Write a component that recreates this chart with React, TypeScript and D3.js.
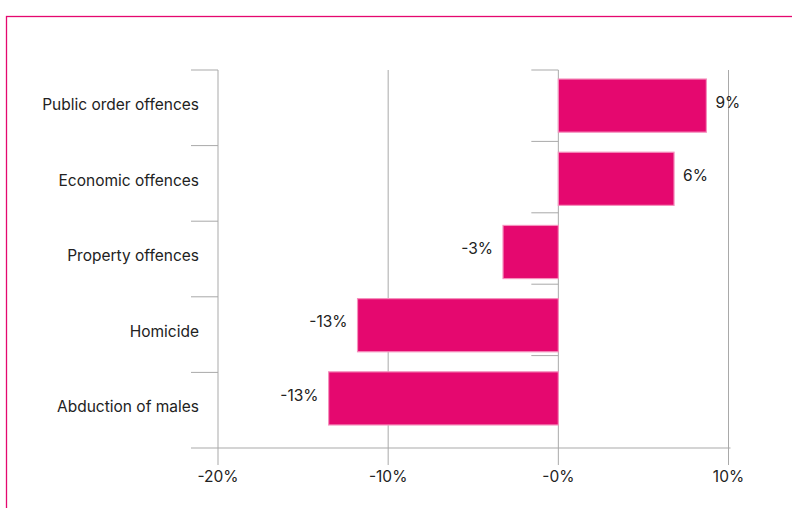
import React from "react";
import * as d3 from "d3";

const categories = [
  "Public order offences",
  "Economic offences",
  "Property offences",
  "Homicide",
  "Abduction of males",
];
const values = [8.7, 6.8, -3.25, -11.8, -13.5];
const valueLabels = ["9%", "6%", "-3%", "-13%", "-13%"];
const xTicks = [-20, -10, 0, 10];
const xTickLabels = ["-20%", "-10%", "-0%", "10%"];

const W = 792;
const H = 508;
const PINK = "#e5086f";
const GRID = "#a9a9a9";
const FONT = "Inter, 'Noto Sans', sans-serif";
const FS = 15.5;

export default function App() {
  const x = d3.scaleLinear().domain([-20, 10]).range([218, 728.5]);
  const yLabel = d3.scaleBand<string>().domain(categories).range([70, 448]);
  const yZeroTicks = d3.scaleBand<string>().domain(categories).range([70, 427]);
  const yBar = d3
    .scaleBand<string>()
    .domain(categories)
    .range([69, 435])
    .paddingInner(0.274)
    .paddingOuter(0.137);

  const top = 70;
  const bottom = 448;
  const leftTickStart = 191;

  return (
    <svg
      width={W}
      height={H}
      style={{ position: "absolute", left: 0, top: 0, display: "block", background: "#fff" }}
    >
      <rect x={6.5} y={16.5} width={900} height={700} fill="none" stroke={PINK} strokeWidth={1.3} />

      {xTicks.map((t) => (
        <line key={t} x1={x(t)} x2={x(t)} y1={top} y2={bottom + 17} stroke={GRID} strokeWidth={1} />
      ))}
      <line x1={leftTickStart} x2={x(10) + 2} y1={bottom} y2={bottom} stroke={GRID} strokeWidth={1} />

      {categories.map((c) => (
        <line
          key={"lt" + c}
          x1={leftTickStart}
          x2={x(-20)}
          y1={yLabel(c)!}
          y2={yLabel(c)!}
          stroke={GRID}
          strokeWidth={1}
        />
      ))}
      {categories.map((c) => (
        <line
          key={"zt" + c}
          x1={x(0) - 27}
          x2={x(0)}
          y1={yZeroTicks(c)!}
          y2={yZeroTicks(c)!}
          stroke={GRID}
          strokeWidth={1}
        />
      ))}

      {categories.map((c, i) => {
        const v = values[i];
        const x0 = x(Math.min(0, v));
        const x1 = x(Math.max(0, v));
        return (
          <rect
            key={"b" + c}
            x={x0}
            y={yBar(c)!}
            width={x1 - x0}
            height={yBar.bandwidth()}
            fill={PINK}
            stroke="#f590bd"
            strokeWidth={1.2}
          />
        );
      })}

      {categories.map((c, i) => {
        const v = values[i];
        const pos = v >= 0;
        return (
          <text
            key={"v" + c}
            x={x(v) + (pos ? 9 : -10)}
            y={yBar(c)! + yBar.bandwidth() / 2 - 2}
            textAnchor={pos ? "start" : "end"}
            dominantBaseline="middle"
            fontFamily={FONT}
            fontSize={FS}
            fill="#222"
          >
            {valueLabels[i]}
          </text>
        );
      })}

      {categories.map((c) => (
        <text
          key={"l" + c}
          x={199}
          y={yLabel(c)! + yLabel.bandwidth() / 2 - 2}
          textAnchor="end"
          dominantBaseline="middle"
          fontFamily={FONT}
          fontSize={FS}
          fill="#222"
        >
          {c}
        </text>
      ))}

      {xTicks.map((t, i) => (
        <text
          key={"xt" + t}
          x={x(t)}
          y={478}
          textAnchor="middle"
          dominantBaseline="middle"
          fontFamily={FONT}
          fontSize={FS}
          fill="#222"
        >
          {xTickLabels[i]}
        </text>
      ))}
    </svg>
  );
}
